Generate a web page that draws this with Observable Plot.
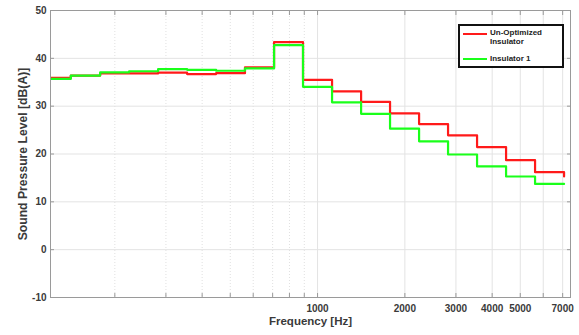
<!DOCTYPE html>
<html><head><meta charset="utf-8">
<script src="https://cdn.jsdelivr.net/npm/d3@7"></script>
<script src="https://cdn.jsdelivr.net/npm/@observablehq/plot@0.6"></script>
<style>
body{margin:0;background:#fff;font-family:"Liberation Sans",Arial,sans-serif}
#wrap{position:relative;width:579px;height:335px}
.legend{position:absolute;left:458px;top:24px;width:106px;height:44px;border:2px solid #111;background:#fff;box-sizing:border-box;font-size:8px;font-weight:bold;color:#222}
.legend .ln{position:absolute;left:3px;width:24px;height:2px}
.legend .tx{position:absolute;left:30px;line-height:9px;white-space:nowrap}
</style></head><body><div id="wrap"></div>
<script>
// 1/3-octave band edges (Hz); each band value is held from its lower edge to the next edge
const bandEdges = [112, 141, 178, 224, 282, 355, 447, 562, 708, 891, 1122, 1413, 1778, 2239, 2818, 3548, 4467, 5623, 7079];
const unOptimized = [35.9, 36.4, 36.85, 36.85, 37.0, 36.7, 36.9, 38.1, 43.4, 35.5, 33.1, 30.9, 28.5, 26.25, 23.9, 21.45, 18.7, 16.2, 15.3];
const insulator1  = [35.7, 36.4, 37.05, 37.3, 37.75, 37.6, 37.4, 37.9, 42.75, 34.05, 30.8, 28.4, 25.3, 22.65, 19.9, 17.4, 15.3, 13.75, 13.75];
const yTicks = [-10, 0, 10, 20, 30, 40, 50];
const xLabelTicks = [1000, 2000, 3000, 4000, 5000, 7000];
const xMajorTicks = [1000, 2000, 3000, 4000, 5000, 6000, 7000];
const xMinorTicks = [200, 300, 400, 500, 600, 700, 800, 900];
const seriesNames = ["Un-Optimized Insulator", "Insulator 1"];

const redData = bandEdges.map((f, i) => ({f, v: unOptimized[i]}));
const greenData = bandEdges.map((f, i) => ({f, v: insulator1[i]}));
const allX = xMinorTicks.concat(xMajorTicks);
const font = "Liberation Sans, Arial, sans-serif";

const chart = Plot.plot({
  width: 579, height: 335,
  marginLeft: 50, marginRight: 9, marginTop: 10, marginBottom: 38,
  style: {fontFamily: font, fontSize: "10px", fontWeight: "bold", color: "#3a3a3a", background: "#fff"},
  x: {type: "log", domain: [120, 7450]},
  y: {domain: [-10, 50]},
  marks: [
    Plot.gridY(yTicks, {stroke: "#e3e3e3", strokeOpacity: 1}),
    Plot.gridX(xMajorTicks, {stroke: "#e3e3e3", strokeOpacity: 1}),
    Plot.gridX(xMinorTicks, {stroke: "#e0e0e0", strokeOpacity: 1, strokeDasharray: "1,2"}),
    Plot.line(redData, {x: "f", y: "v", curve: "step-after", stroke: "#ff1a1a", strokeWidth: 2.2, clip: true}),
    Plot.line(greenData, {x: "f", y: "v", curve: "step-after", stroke: "#1aff1a", strokeWidth: 2.2, clip: true}),
    Plot.frame({stroke: "#9a9a9a"}),
    Plot.axisX(allX, {anchor: "bottom", tickSize: -4, text: null, stroke: "#9a9a9a", label: null}),
    Plot.axisX(allX, {anchor: "top", tickSize: -4, text: null, stroke: "#9a9a9a", label: null}),
    Plot.axisY(yTicks, {anchor: "left", tickSize: -4, text: null, stroke: "#9a9a9a", label: null}),
    Plot.axisY(yTicks, {anchor: "right", tickSize: -4, text: null, stroke: "#9a9a9a", label: null}),
    Plot.text(xLabelTicks, {x: d => d, text: d => String(d), frameAnchor: "bottom", lineAnchor: "top", dy: 7, fontSize: 10, fontWeight: "bold", fill: "#3a3a3a"}),
    Plot.axisY(yTicks, {anchor: "left", tickSize: 0, tickPadding: 4, tickFormat: d => String(d), label: null}),
    Plot.text(["Frequency [Hz]"], {frameAnchor: "bottom", dy: 27, fontSize: 11.5, fontWeight: "bold", fill: "#3a3a3a"}),
    Plot.text(["Sound Pressure Level [dB(A)]"], {frameAnchor: "left", textAnchor: "middle", dx: -27, rotate: -90, fontSize: 12.2, fontWeight: "bold", fill: "#3a3a3a"})
  ]
});
const wrap = document.getElementById("wrap");
wrap.appendChild(chart);
const lg = document.createElement("div");
lg.className = "legend";
lg.innerHTML = `
  <div class="ln" style="top:7px;background:#ff1a1a"></div>
  <div class="tx" style="top:2px">Un-Optimized<br>Insulator</div>
  <div class="ln" style="top:32px;background:#1aff1a"></div>
  <div class="tx" style="top:28px">${seriesNames[1]}</div>`;
wrap.appendChild(lg);
</script>
</body></html>
